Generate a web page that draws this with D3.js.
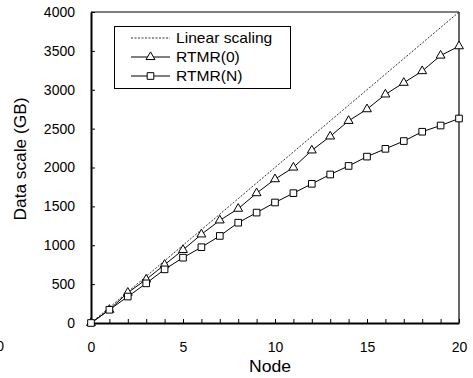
<!DOCTYPE html>
<html><head><meta charset="utf-8">
<script src="https://cdn.jsdelivr.net/npm/d3@7"></script>
<style>body{margin:0;background:#fff;} text{font-family:"Liberation Sans",Arial,sans-serif;}</style>
</head><body><svg id="c" width="473" height="378"></svg>
<script>
const nodes = [0,1,2,3,4,5,6,7,8,9,10,11,12,13,14,15,16,17,18,19,20];
const linearScaling = [0,200,400,600,800,1000,1200,1400,1600,1800,2000,2200,2400,2600,2800,3000,3200,3400,3600,3800,4000];
const rtmr0 = [0,170,390,560,750,940,1140,1320,1470,1670,1850,2000,2220,2400,2600,2750,2940,3090,3240,3440,3560];
const rtmrN = [0,170,340,510,690,840,975,1120,1290,1420,1550,1670,1790,1910,2020,2140,2240,2340,2460,2540,2630];
const xTicks = [0,5,10,15,20];
const yTicks = [0,500,1000,1500,2000,2500,3000,3500,4000];
const legendLabels = ["Linear scaling","RTMR(0)","RTMR(N)"];

const svg = d3.select("#c");
const L=91, R=459, T=12, B=323;
const x = d3.scaleLinear().domain([0,20]).range([L,R]);
const y = d3.scaleLinear().domain([0,4000]).range([B,T]);
const fs = 14;

// frame
svg.append("line").attr("x1",L).attr("x2",R).attr("y1",T).attr("y2",T).attr("stroke","#000").attr("stroke-width",1);
svg.append("line").attr("x1",R).attr("x2",R).attr("y1",T).attr("y2",B).attr("stroke","#666").attr("stroke-width",2);

// axes
const yAx = svg.append("g").attr("transform",`translate(${L},0)`)
  .call(d3.axisLeft(y).tickValues(yTicks).tickSizeInner(-4).tickSizeOuter(0).tickPadding(16).tickFormat(d3.format("d")));
const xAx = svg.append("g").attr("transform",`translate(0,${B})`)
  .call(d3.axisBottom(x).tickValues(nodes).tickSizeInner(-4).tickSizeOuter(0).tickPadding(19)
  .tickFormat(d => xTicks.includes(d) ? d : ""));
[yAx,xAx].forEach(g=>{
  g.select(".domain").attr("stroke","#000").attr("stroke-width",2);
  g.selectAll(".tick line").attr("stroke","#000").attr("stroke-width",1);
  g.selectAll("text").attr("font-size",fs).attr("fill","#000").attr("font-family","Liberation Sans, Arial, sans-serif");
});

// axis titles
svg.append("text").attr("transform","translate(270,372) scale(1.1,1)").attr("text-anchor","middle").attr("font-size",16).text("Node");
svg.append("text").attr("transform",`translate(26,159) rotate(-90) scale(1.08,1)`).attr("text-anchor","middle").attr("font-size",16).text("Data scale (GB)");
// stray clipped label at left edge (as in the reference)
svg.append("text").attr("x",4).attr("y",351).attr("text-anchor","end").attr("font-size",fs).text("0");

// lines
const line = d3.line().x((d,i)=>x(nodes[i])).y(d=>y(d));
svg.append("path").datum(linearScaling).attr("d",line).attr("fill","none").attr("stroke","#000").attr("stroke-width",0.8).attr("stroke-dasharray","2,1.5");
svg.append("path").datum(rtmr0).attr("d",line).attr("fill","none").attr("stroke","#000").attr("stroke-width",1);
svg.append("path").datum(rtmrN).attr("d",line).attr("fill","none").attr("stroke","#000").attr("stroke-width",1);

const tri = d3.symbol().type(d3.symbolTriangle).size(34);
const sq = d3.symbol().type(d3.symbolSquare).size(44);
svg.selectAll(".tri").data(rtmr0).enter().append("path")
  .attr("d",tri).attr("transform",(d,i)=>`translate(${x(nodes[i])},${y(d)})`)
  .attr("fill","#fff").attr("stroke","#000").attr("stroke-width",1);
svg.selectAll(".sq").data(rtmrN).enter().append("path")
  .attr("d",sq).attr("transform",(d,i)=>`translate(${x(nodes[i])},${y(d)})`)
  .attr("fill","#fff").attr("stroke","#000").attr("stroke-width",1);

// legend
const lg = svg.append("g");
lg.append("rect").attr("x",114.5).attr("y",26.5).attr("width",176).attr("height",62).attr("fill","#fff").attr("stroke","#000").attr("stroke-width",1);
const rows=[38,57,76];
legendLabels.forEach((lab,i)=>{
  const yy=rows[i];
  const ln=lg.append("line").attr("x1",131).attr("x2",170).attr("y1",yy).attr("y2",yy).attr("stroke","#000");
  if(i===0) ln.attr("stroke-dasharray","2,1.5").attr("stroke-width",0.8);
  if(i===1) lg.append("path").attr("d",tri).attr("transform",`translate(150.5,${yy})`).attr("fill","#fff").attr("stroke","#000");
  if(i===2) lg.append("path").attr("d",sq).attr("transform",`translate(150.5,${yy})`).attr("fill","#fff").attr("stroke","#000");
  lg.append("text").attr("transform",`translate(176,${yy+5}) scale(1.04,1)`).attr("font-size",15).text(lab);
});
</script></body></html>
